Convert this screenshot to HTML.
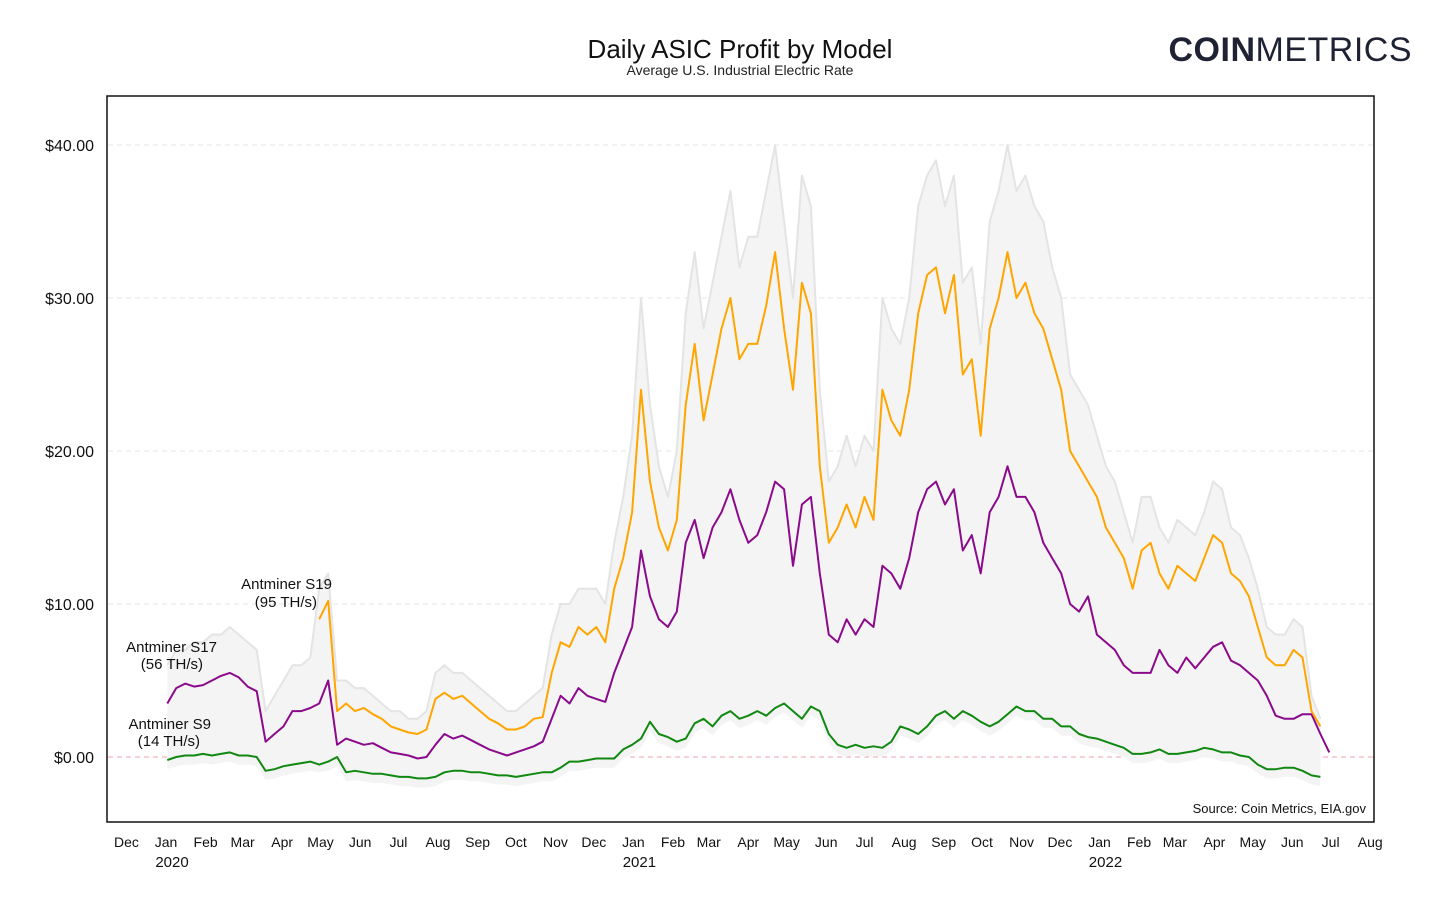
<!DOCTYPE html>
<html><head><meta charset="utf-8">
<style>
body{margin:0;background:#fff;width:1456px;height:910px;overflow:hidden;font-family:"Liberation Sans",sans-serif}
svg text{font-family:"Liberation Sans",sans-serif}
</style></head>
<body>
<svg id="chart" width="1456" height="910" xmlns="http://www.w3.org/2000/svg">
<text x="740" y="58" text-anchor="middle" font-size="26" fill="#111">Daily ASIC Profit by Model</text>
<text x="740" y="75" text-anchor="middle" font-size="14" fill="#222">Average U.S. Industrial Electric Rate</text>
<text x="1412" y="61" text-anchor="end" font-size="34" fill="#1e2233" letter-spacing="0.5"><tspan font-weight="bold">COIN</tspan><tspan font-weight="normal">METRICS</tspan></text>
<g id="grid"></g>
<g id="series"></g>
<rect x="107" y="96" width="1267" height="726" fill="none" stroke="#111" stroke-width="1.5"/>
<g id="axes"></g>
<text font-size="15" fill="#111" text-anchor="end"><tspan x="332" y="589">Antminer S19</tspan><tspan x="317" y="607">(95 TH/s)</tspan></text>
<text font-size="15" fill="#111" text-anchor="end"><tspan x="217" y="652">Antminer S17</tspan><tspan x="203" y="669">(56 TH/s)</tspan></text>
<text font-size="15" fill="#111" text-anchor="end"><tspan x="211" y="729">Antminer S9</tspan><tspan x="200" y="746">(14 TH/s)</tspan></text>
<text x="1366" y="813" text-anchor="end" font-size="13" fill="#111">Source: Coin Metrics, EIA.gov</text>
</svg>
<script>
const startDate = Date.UTC(2020,0,2);
const stepDays = 7;
const s17 = [3.5,4.5,4.8,4.6,4.7, 5.0,5.3,5.5,5.2,4.6,4.3, 1.0,1.5,2.0,3.0,3.0,3.2, 3.5,5.0,
 0.8,1.2,1.0,0.8,0.9,0.6,0.3,0.2,0.1,-0.1,0.0,
 0.8,1.5,1.2,1.4,1.1,0.8,0.5,0.3,0.1,0.3,0.5,0.7,1.0,
 2.5,4.0,3.5,4.5,4.0,3.8,3.6,5.5,7.0,8.5,
 13.5,10.5,9.0,8.5,9.5,14.0,15.5,13,15,16,17.5,15.5,14,14.5,16,18,17.5,12.5,16.5,17,
 12,8,7.5,9,8,9,8.5,
 12.5,12,11,13,16,17.5,18,16.5,17.5,13.5,14.5,12,16,17,19,17,17,16,14,13,
 12,10,9.5,10.5,8,7.5,7,6,5.5,5.5,5.5,7,6,5.5,6.5,5.8,6.5,7.2,7.5,6.3,6.0,5.5,5.0,4.0,2.7,2.5,2.5,2.8,2.8,1.5,0.3];
const s19Start = 17;
const s19 = [9.0,10.2,3.0,3.5,3.0,3.2,2.8,2.5,2.0,1.8,1.6,1.5,1.8,3.8,4.2,3.8,4.0,3.5,3.0,2.5,2.2,1.8,1.8,2.0,2.5,2.6,
 5.5,7.5,7.2,8.5,8.0,8.5,7.5,11,13,16,24,18,15,13.5,15.5,23,27,22,25,28,30,26,27,27,29.5,33,28,24,31,29,
 19,14,15,16.5,15,17,15.5,24,22,21,24,29,31.5,32,29,31.5,25,26,21,28,30,33,30,31,29,28,26,24,20,19,18,17,15,14,13,11,
 13.5,14,12,11,12.5,12,11.5,13,14.5,14,12,11.5,10.5,8.5,6.5,6,6,7,6.5,3,2];
const s9 = [-0.2,0,0.1,0.1,0.2,0.1,0.2,0.3,0.1,0.1,0,-0.9,-0.8,-0.6,-0.5,-0.4,-0.3,-0.5,-0.3,0.0,
 -1.0,-0.9,-1.0,-1.1,-1.1,-1.2,-1.3,-1.3,-1.4,-1.4,-1.3,-1.0,-0.9,-0.9,-1.0,-1.0,-1.1,-1.2,-1.2,-1.3,-1.2,-1.1,-1.0,-1.0,
 -0.7,-0.3,-0.3,-0.2,-0.1,-0.1,-0.1,0.5,0.8,1.2,2.3,1.5,1.3,1.0,1.2,2.2,2.5,2.0,2.7,3.0,2.5,2.7,3.0,2.7,3.2,3.5,3.0,2.5,3.3,3.0,
 1.5,0.8,0.6,0.8,0.6,0.7,0.6,1.0,2.0,1.8,1.5,2.0,2.7,3.0,2.5,3.0,2.7,2.3,2.0,2.3,2.8,3.3,3.0,3.0,2.5,2.5,2.0,2.0,1.5,1.3,1.2,1.0,0.8,0.6,
 0.2,0.2,0.3,0.5,0.2,0.2,0.3,0.4,0.6,0.5,0.3,0.3,0.1,0,-0.5,-0.8,-0.8,-0.7,-0.7,-0.9,-1.2,-1.3];
const otherModelsMax = [6,7,7,7.5,7.5,8,8,8.5,8,7.5,7,3,4,5,6,6,6.5,
 11,12,5,5,4.5,4.5,4,3.5,3,3,2.5,2.5,3,5.5,6,5.5,5.5,5,4.5,4,3.5,3,3,3.5,4,4.5,8,10,10,11,11,11,10,14,17,21,
 30,23,19,17,20,29,33,28,31,34,37,32,34,34,37,40,35,30,38,36,24,18,19,21,19,21,20,30,28,27,30,36,38,39,36,38,31,32,27,35,37,40,37,38,36,35,32,
 30,25,24,23,21,19,18,16,14,17,17,15,14,15.5,15,14.5,16,18,17.5,15,14.5,13,11,8.5,8,8,9,8.5,4,2.5];
const otherModelsMin = [-0.8,-0.6,-0.5,-0.5,-0.4,-0.5,-0.4,-0.3,-0.5,-0.5,-0.6,-1.5,-1.4,-1.2,-1.1,-1.0,-0.9,-1.0,-0.9,-0.6,
 -1.6,-1.5,-1.6,-1.7,-1.7,-1.8,-1.9,-1.9,-2.0,-2.0,-1.9,-1.6,-1.5,-1.5,-1.6,-1.6,-1.7,-1.8,-1.8,-1.9,-1.8,-1.7,-1.6,-1.6,
 -1.3,-0.9,-0.9,-0.8,-0.7,-0.7,-0.7,-0.1,0.2,0.6,1.7,0.9,0.7,0.4,0.6,1.6,1.9,1.4,2.1,2.4,1.9,2.1,2.4,2.1,2.6,2.9,2.4,1.9,2.7,2.4,
 0.9,0.2,0,0.2,0,0.1,0,0.4,1.4,1.2,0.9,1.4,2.1,2.4,1.9,2.4,2.1,1.7,1.4,1.7,2.2,2.7,2.4,2.4,1.9,1.9,1.4,1.4,0.9,0.7,0.6,0.4,0.2,0,
 -0.4,-0.4,-0.3,-0.1,-0.4,-0.4,-0.3,-0.2,0,-0.1,-0.3,-0.3,-0.5,-0.6,-1.1,-1.4,-1.4,-1.3,-1.3,-1.5,-1.8,-1.9];
const yTicks = [0,10,20,30,40];
const yTickLabels = ["$0.00","$10.00","$20.00","$30.00","$40.00"];
const monthLabels = ["Dec","Jan","Feb","Mar","Apr","May","Jun","Jul","Aug","Sep","Oct","Nov","Dec","Jan","Feb","Mar","Apr","May","Jun","Jul","Aug","Sep","Oct","Nov","Dec","Jan","Feb","Mar","Apr","May","Jun","Jul","Aug"];
const yearLabels = ["2020","2021","2022"];

const NS="http://www.w3.org/2000/svg";
const day0 = Date.UTC(2020,0,1);
function xScale(t){return 166 + (t-day0)/86400000*1.277;}
function yScale(v){return 757 - v*15.3;}
function idxDate(i){return startDate + i*stepDays*86400000;}
const grid=document.getElementById('grid'), axes=document.getElementById('axes'), ser=document.getElementById('series');
yTicks.forEach((v,k)=>{
  const l=document.createElementNS(NS,'line');
  
  
  l.setAttribute('x1',108);l.setAttribute('x2',1373);l.setAttribute('y1',yScale(v));l.setAttribute('y2',yScale(v));
  l.setAttribute('stroke',v===0?'#f0a0b0':'#e6e6e6');l.setAttribute('stroke-dasharray','5,4');l.setAttribute('stroke-width',1);
  grid.appendChild(l);
  const t=document.createElementNS(NS,'text');
  
  
  t.setAttribute('x',94);t.setAttribute('y',yScale(v)+6);t.setAttribute('text-anchor','end');t.setAttribute('font-size',16);t.setAttribute('fill','#111');
  t.textContent=yTickLabels[k];axes.appendChild(t);
});
monthLabels.forEach((m,k)=>{
  const d=Date.UTC(2019,11+k,1);
  const t=document.createElementNS(NS,'text');
  
  
  t.setAttribute('x',xScale(d));t.setAttribute('y',847);t.setAttribute('text-anchor','middle');t.setAttribute('font-size',14);t.setAttribute('fill','#111');
  t.textContent=m;axes.appendChild(t);
});
yearLabels.forEach((yv)=>{
  const d=Date.UTC(+yv,0,1);
  const t=document.createElementNS(NS,'text');
  
  
  t.setAttribute('x',xScale(d)+6);t.setAttribute('y',867);t.setAttribute('text-anchor','middle');t.setAttribute('font-size',15);t.setAttribute('fill','#111');
  t.textContent=yv;axes.appendChild(t);
});
function pts(vals,offset){return vals.map((v,i)=>xScale(idxDate(i+offset)).toFixed(1)+','+yScale(v).toFixed(1));}
// other models band
const n=Math.min(otherModelsMax.length, otherModelsMin.length);
const up=pts(otherModelsMax.slice(0,n),0), lo=pts(otherModelsMin.slice(0,n),0).reverse();
const band=document.createElementNS(NS,'polygon');


band.setAttribute('points',up.concat(lo).join(' '));band.setAttribute('fill','#f4f4f4');
ser.appendChild(band);
function drawLine(vals,offset,color,name,w){
  const p=document.createElementNS(NS,'polyline');
  
  
  p.setAttribute('points',pts(vals,offset).join(' '));p.setAttribute('fill','none');p.setAttribute('stroke',color);p.setAttribute('stroke-width',w);p.setAttribute('stroke-linejoin','round');
  ser.appendChild(p);
}
drawLine(otherModelsMax,0,'#e4e4e4','line-other-models-max',2);
drawLine(s9,0,'#118811','line-s9',2);
drawLine(s17,0,'#8b0a8b','line-s17',2);
drawLine(s19,s19Start,'#ffa500','line-s19',2);
</script>
</body></html>
